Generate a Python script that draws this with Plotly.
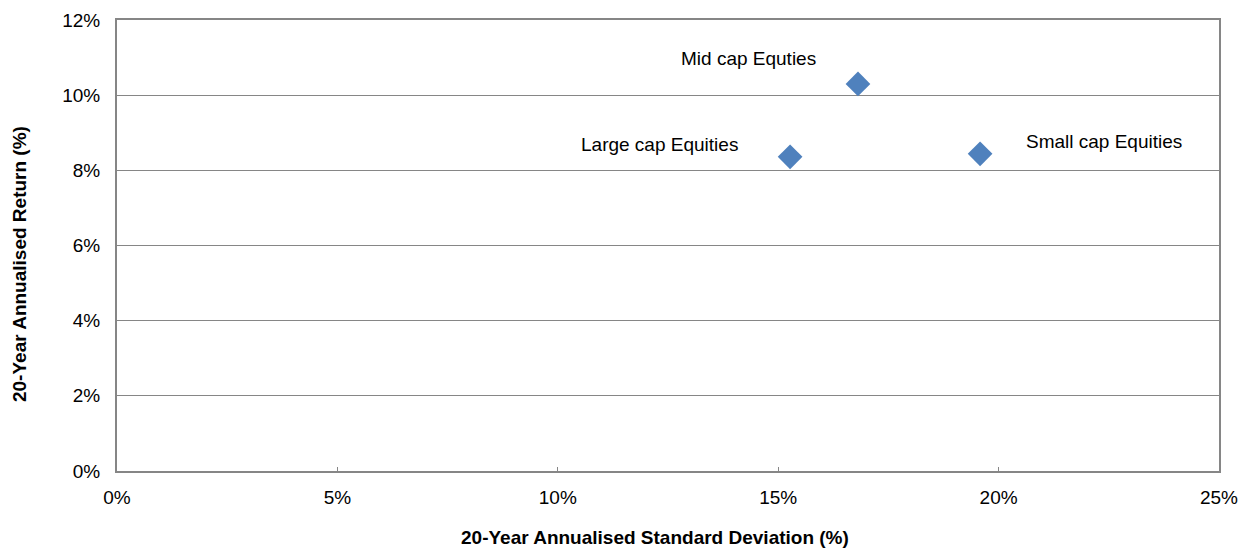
import plotly.graph_objects as go

# Risk / return of equity segments
names = ["Large cap Equities", "Mid cap Equties", "Small cap Equities"]
std_dev = [15.27, 16.81, 19.58]      # 20-year annualised standard deviation (%)
ann_return = [8.36, 10.30, 8.44]     # 20-year annualised return (%)

# label offsets (pixels) from each marker
label_dx = [-131, -109, 124]
label_dy = [12, 25, 12]

x_ticks = [0, 5, 10, 15, 20, 25]
y_ticks = [0, 2, 4, 6, 8, 10, 12]

font_family = "Liberation Sans, Arial, sans-serif"
axis_grey = "#868686"
fsize = 19
title_size = 19

fig = go.Figure()
fig.add_trace(go.Scatter(
    x=std_dev, y=ann_return, mode="markers",
    marker=dict(symbol="diamond", size=19, color="#4F81BD",
                line=dict(width=0)),
    hoverinfo="skip", showlegend=False,
))

for n, xv, yv, dx, dy in zip(names, std_dev, ann_return, label_dx, label_dy):
    fig.add_annotation(x=xv, y=yv, text=n, showarrow=False,
                       xshift=dx, yshift=dy, xanchor="center", yanchor="middle",
                       font=dict(family=font_family, size=fsize, color="#000"))

# axis titles
fig.add_annotation(text="<b>20-Year Annualised Standard Deviation (%)</b>",
                   xref="paper", yref="paper", x=0.488, y=-0.147,
                   xanchor="center", yanchor="middle", showarrow=False,
                   font=dict(family=font_family, size=title_size, color="#000"))
fig.add_annotation(text="<b>20-Year Annualised Return (%)</b>",
                   xref="paper", yref="paper", x=-0.088, y=0.459, textangle=-90,
                   xanchor="center", yanchor="middle", showarrow=False,
                   font=dict(family=font_family, size=title_size, color="#000"))

fig.update_layout(
    width=1241, height=550,
    margin=dict(l=117, r=22, t=20, b=79, autoexpand=False),
    paper_bgcolor="white", plot_bgcolor="white",
    font=dict(family=font_family, color="#000"),
)
fig.update_xaxes(
    range=[0, 25], tickvals=x_ticks, ticktext=[f"{v}%" for v in x_ticks],
    showgrid=False, zeroline=False, automargin=False,
    showline=True, linecolor=axis_grey, linewidth=2, mirror=True,
    ticks="inside", ticklen=4, tickcolor=axis_grey, tickwidth=1,
    tickfont=dict(size=fsize), ticklabelstandoff=8,
)
fig.update_yaxes(
    range=[0, 12], tickvals=y_ticks, ticktext=[f"{v}%" for v in y_ticks],
    showgrid=True, gridcolor=axis_grey, gridwidth=1, zeroline=False,
    automargin=False,
    showline=True, linecolor=axis_grey, linewidth=2, mirror=True,
    ticks="", tickfont=dict(size=fsize), ticklabelstandoff=11,
)

fig.write_html("out.html")
